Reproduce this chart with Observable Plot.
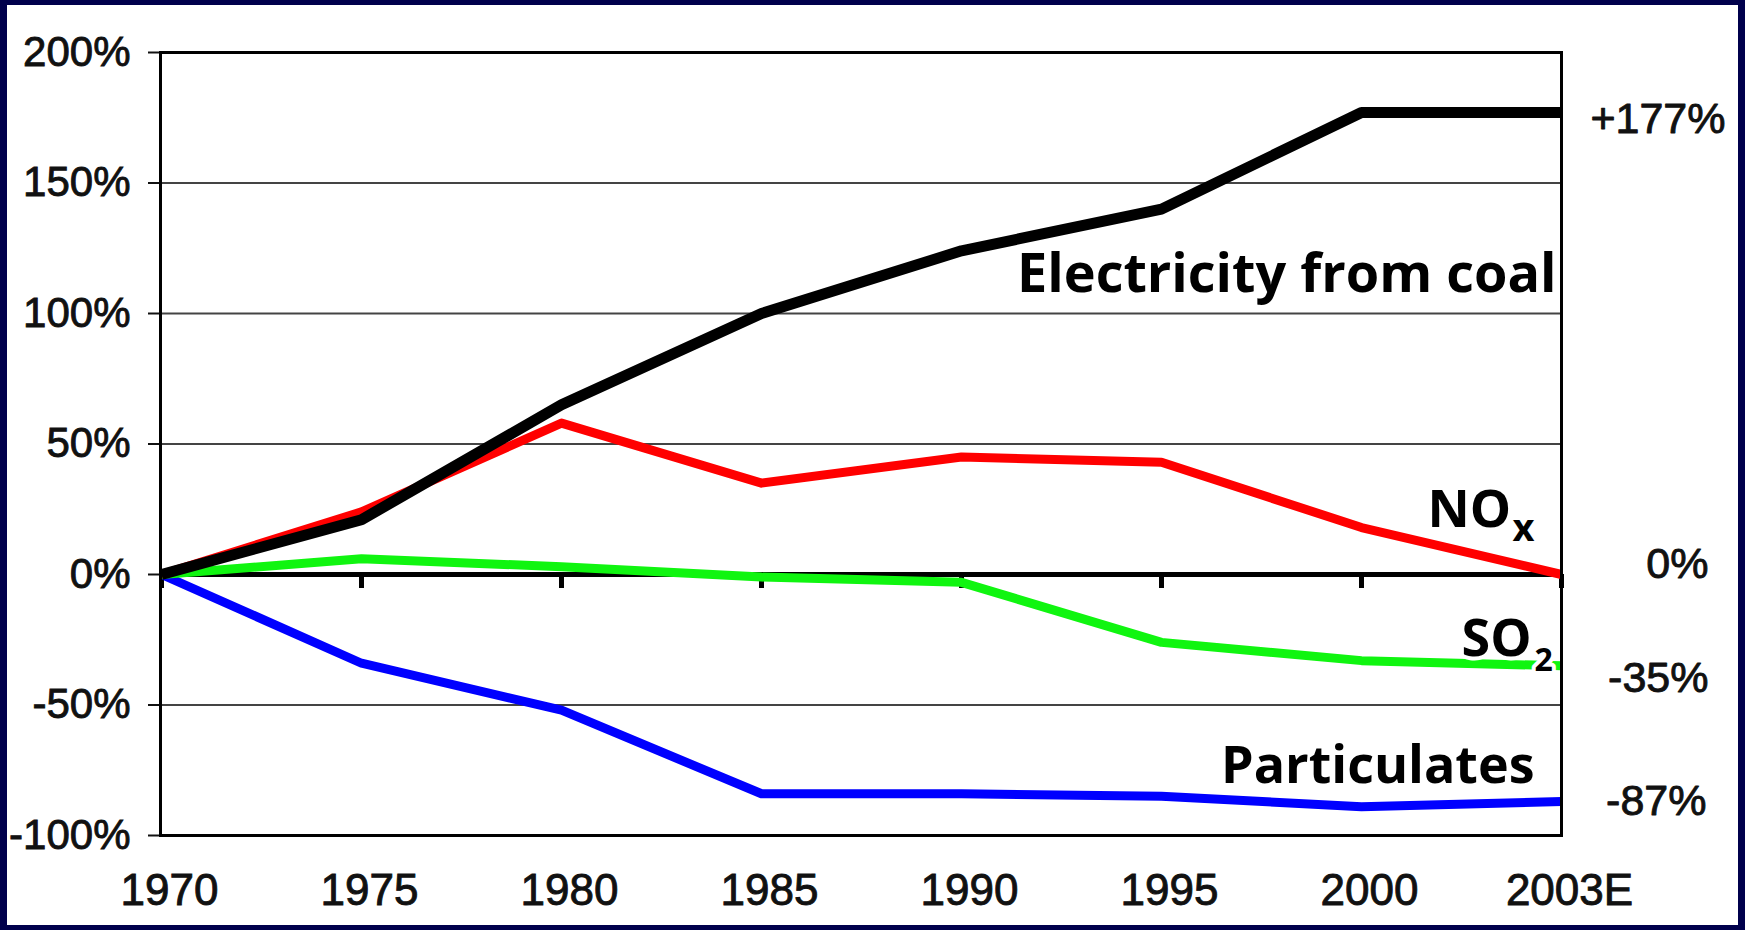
<!DOCTYPE html>
<html>
<head>
<meta charset="utf-8">
<script src="https://cdn.jsdelivr.net/npm/d3@7"></script>
<script src="https://cdn.jsdelivr.net/npm/@observablehq/plot@0.6"></script>
<style>
  html, body { margin: 0; padding: 0; width: 1745px; height: 930px; overflow: hidden; background: #00004c; }
  #panel { position: absolute; left: 7px; top: 5px; width: 1731px; height: 920px; background: #fff; }
  #panel svg { display: block; }
  /* slightly heavier axis numerals */
  #panel g[aria-label="y-axis tick label"] text,
  #panel g[aria-label="x-axis tick label"] text { stroke: #111; stroke-width: 0.9px; paint-order: stroke; }
</style>
</head>
<body>
<div id="panel"></div>
<script>
// Change since 1970 (%), US coal power output vs. emissions
const years = ["1970", "1975", "1980", "1985", "1990", "1995", "2000", "2003E"];
const coal = [0, 21, 65, 100, 124, 140, 177, 177];
const nox = [0, 24, 58, 35, 45, 43, 18, 0];
const so2 = [0, 6, 3, -1, -3, -26, -33, -35];
const particulates = [0, -34, -52, -84, -84, -85, -89, -87];
const yTicks = [-100, -50, 0, 50, 100, 150, 200];
const gridValues = [-50, 50, 100, 150];

const rows = (key, values) => years.map((year, i) => ({ key, year, value: values[i] }));

const axisFont = "'Liberation Sans', Arial, sans-serif";
const labelFont = "'Open Sans', 'DejaVu Sans', sans-serif";
const last = years[years.length - 1];
const pct = (v) => `${v > 0 ? "+" : ""}${v}%`;

// series drawn bottom-up so the coal line sits on top
const series = [
  { values: particulates, stroke: "#0000ff", width: 9 },
  { values: so2, stroke: "#10f510", width: 9 },
  { values: nox, stroke: "#ff0000", width: 9 },
  { values: coal, stroke: "#000000", width: 11 }
];

// end-of-line value labels, offsets from the 2003E point
const endLabels = [
  { values: coal, dx: 164, dy: 7 },
  { values: nox, dx: 147, dy: -10 },
  { values: so2, dx: 147, dy: 12 },
  { values: particulates, dx: 145, dy: 0 }
];

// series names, anchored at the line ends
const nameLabels = [
  { values: coal, text: "Electricity from coal", anchor: "end", dx: -5, dy: 162, size: 54 },
  { values: nox, text: "NO", anchor: "start", dx: -134, dy: -64, size: 52 },
  { values: nox, text: "x", anchor: "start", dx: -49, dy: -46, size: 38 },
  { values: so2, text: "SO", anchor: "start", dx: -100, dy: -26, size: 52 },
  { values: so2, text: "2", anchor: "start", dx: -27, dy: -5, size: 32 },
  { values: particulates, text: "Particulates", anchor: "end", dx: -27, dy: -35, size: 52 }
];

const chart = Plot.plot({
  width: 1731,
  height: 920,
  marginLeft: 153,
  marginTop: 47,
  marginRight: 177,
  marginBottom: 90,
  x: { type: "point", domain: years, padding: 0 },
  y: { domain: [-100, 200] },
  style: { background: "white", color: "#111" },
  marks: [
    Plot.gridY(gridValues, { stroke: "#444", strokeOpacity: 1, strokeWidth: 2 }),
    Plot.ruleY([0], { stroke: "black", strokeWidth: 5 }),
    Plot.ruleX(years, { x: (d) => d, y1: 0, y2: 0, insetBottom: -14, stroke: "black", strokeWidth: 5 }),
    Plot.axisY(yTicks, {
      tickSize: 12, tickPadding: 18, strokeWidth: 2,
      tickFormat: (d) => `${d}%`, fontSize: 42, fontFamily: axisFont, label: null
    }),
    Plot.axisX(years, {
      tickSize: 0, tickPadding: 38, dx: 8,
      fontSize: 44, fontFamily: axisFont, label: null
    }),
    ...series.map((s) =>
      Plot.line(rows(s.stroke, s.values), {
        x: "year", y: "value", stroke: s.stroke, strokeWidth: s.width,
        strokeLinejoin: "round", strokeLinecap: "butt"
      })
    ),
    Plot.frame({ stroke: "black", strokeWidth: 3 }),
    ...endLabels.map((l) =>
      Plot.text([l.values[l.values.length - 1]], {
        x: () => last, y: (d) => d, text: (d) => pct(d),
        textAnchor: "end", dx: l.dx, dy: l.dy,
        fontSize: 43, fontFamily: axisFont, fill: "#111",
        stroke: "#111", strokeWidth: 0.9, clip: false
      })
    ),
    ...nameLabels.map((l) =>
      Plot.text([l.values[l.values.length - 1]], {
        x: () => last, y: (d) => d, text: () => l.text,
        textAnchor: l.anchor, dx: l.dx, dy: l.dy,
        fontSize: l.size, fontFamily: labelFont, fontWeight: 700,
        fill: "black", stroke: "white", strokeWidth: 8
      })
    )
  ]
});

document.getElementById("panel").appendChild(chart);
</script>
</body>
</html>
